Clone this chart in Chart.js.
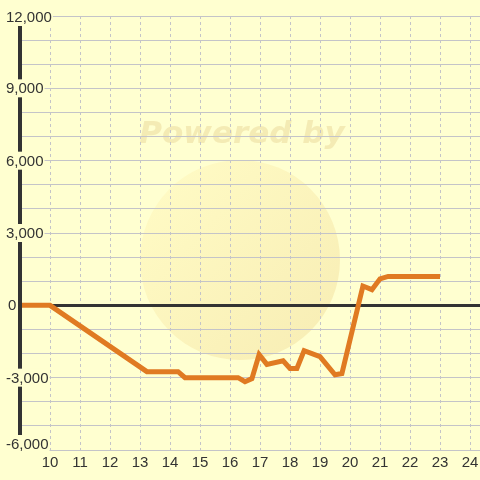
<!DOCTYPE html>
<html>
<head>
<meta charset="utf-8">
<script src="https://cdn.jsdelivr.net/npm/chart.js@4/dist/chart.umd.min.js"></script>
<style>
html,body{margin:0;padding:0;background:#ffffd0;}
canvas{display:block;}
</style>
</head>
<body>
<canvas id="c" width="480" height="480"></canvas>
<script>
const xValues = [9, 10, 13.23, 14.27, 14.5, 16.27, 16.5, 16.73, 16.97, 17.23, 17.77, 18.0, 18.23, 18.47, 19.0, 19.5, 19.73, 20.43, 20.73, 21.0, 21.27, 23];
const yValues = [0, 0, -2750, -2750, -3000, -3000, -3170, -3040, -2040, -2450, -2300, -2620, -2620, -1880, -2130, -2880, -2830, 800, 650, 1100, 1200, 1200];
const xTickValues = [10, 11, 12, 13, 14, 15, 16, 17, 18, 19, 20, 21, 22, 23, 24];
const yLabelValues = [-6000, -3000, 0, 3000, 6000, 9000, 12000];

const BG = '#ffffd0';
const FONT = '"Liberation Sans", Arial, sans-serif';
const points = xValues.map((x, i) => ({x: x, y: yValues[i]}));

const bgPlugin = {
  id: 'bg',
  beforeDraw(chart) {
    const ctx = chart.ctx;
    ctx.save();
    ctx.fillStyle = BG;
    ctx.fillRect(0, 0, chart.width, chart.height);
    const g = ctx.createLinearGradient(160, 180, 330, 340);
    g.addColorStop(0, 'rgba(255,250,195,0.9)');
    g.addColorStop(1, 'rgba(247,236,178,0.9)');
    ctx.fillStyle = g;
    ctx.beginPath();
    ctx.arc(240, 260, 100, 0, Math.PI * 2);
    ctx.fill();
    ctx.font = 'italic bold 31px "DejaVu Sans", sans-serif';
    ctx.fillStyle = 'rgba(242,232,175,0.85)';
    ctx.textAlign = 'center';
    ctx.textBaseline = 'middle';
    ctx.fillText('Powered by', 242, 135);
    ctx.restore();
  }
};

// y axis line and labels with backdrop, drawn on top of the data line
const yAxisPlugin = {
  id: 'yAxisLabels',
  afterDatasetsDraw(chart) {
    const ctx = chart.ctx;
    const ys = chart.scales.y;
    const area = chart.chartArea;
    ctx.save();
    ctx.strokeStyle = '#333333';
    ctx.lineWidth = 4;
    ctx.beginPath();
    ctx.moveTo(area.left, area.top);
    ctx.lineTo(area.left, area.bottom);
    ctx.stroke();
    ctx.font = '15px ' + FONT;
    ctx.textBaseline = 'middle';
    yLabelValues.forEach(v => {
      const txt = v.toLocaleString('en-US');
      const w = ctx.measureText(txt).width;
      let y = ys.getPixelForValue(v);
      y = Math.min(Math.max(y, area.top + 1), area.bottom - 6);
      let x = 43 - w;
      if (x < 6) x = 6;
      if (v === 0) x = 8;
      ctx.fillStyle = BG;
      ctx.fillRect(x - 1, y - 9, w + 2, 18);
      ctx.fillStyle = '#333333';
      ctx.textAlign = 'left';
      ctx.fillText(txt, x, y + 1);
    });
    ctx.restore();
  }
};

new Chart(document.getElementById('c'), {
  type: 'line',
  data: {
    datasets: [{
      data: points,
      borderColor: '#e07a22',
      borderWidth: 5,
      pointRadius: 0,
      tension: 0,
      fill: false
    }]
  },
  options: {
    responsive: false,
    animation: false,
    devicePixelRatio: 1,
    layout: {padding: {left: 20, top: 16, right: 0, bottom: 4}},
    plugins: {legend: {display: false}, tooltip: {enabled: false}},
    scales: {
      x: {
        type: 'linear',
        min: 9,
        max: 24.333,
        afterBuildTicks(scale) { scale.ticks = xTickValues.map(v => ({value: v})); },
        afterFit(scale) { scale.paddingRight = 0; scale.paddingLeft = 0; },
        grid: {color: '#c4c4c8', lineWidth: 1, drawTicks: false},
        border: {display: false, dash: [3, 3]},
        ticks: {color: '#333', font: {family: FONT, size: 15}, padding: 4, maxRotation: 0, autoSkip: false}
      },
      y: {
        min: -6000,
        max: 12000,
        afterBuildTicks(scale) {
          const t = [];
          for (let v = -6000; v <= 12000; v += 1000) t.push({value: v});
          scale.ticks = t;
        },
        grid: {
          color: ctx => (ctx.tick && ctx.tick.value === 0) ? '#333333' : '#c4c4c8',
          lineWidth: ctx => (ctx.tick && ctx.tick.value === 0) ? 3 : 1,
          drawTicks: false
        },
        border: {display: false},
        ticks: {display: false}
      }
    }
  },
  plugins: [bgPlugin, yAxisPlugin]
});
</script>
</body>
</html>
